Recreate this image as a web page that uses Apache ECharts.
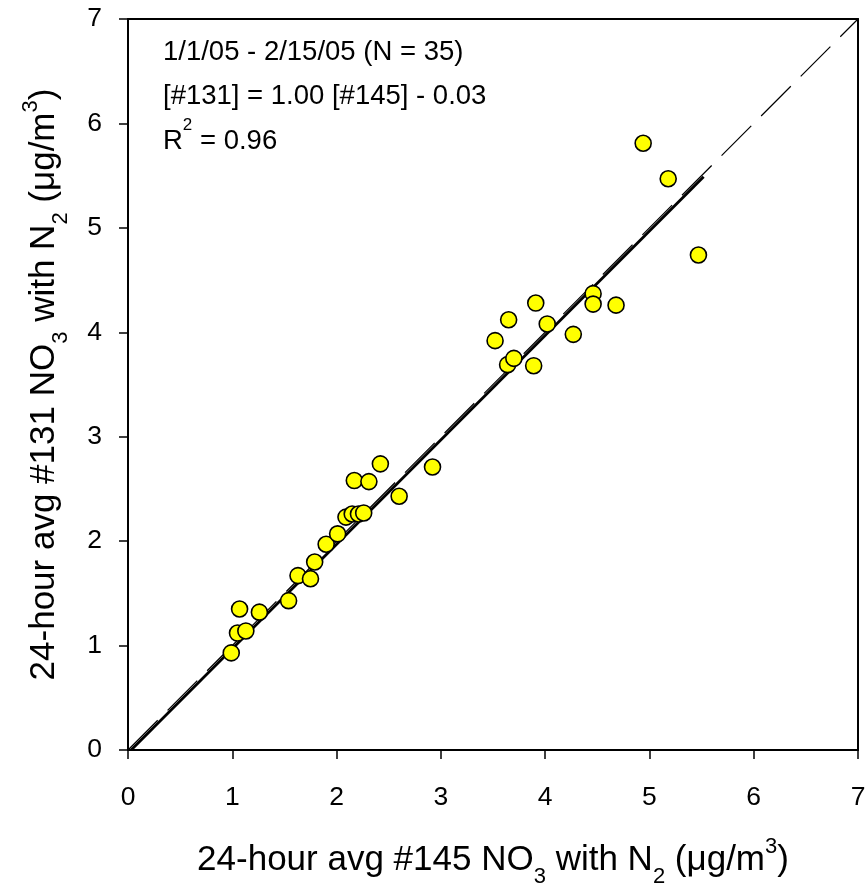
<!DOCTYPE html>
<html><head><meta charset="utf-8">
<script src="https://cdn.jsdelivr.net/npm/echarts@6/dist/echarts.min.js"></script>
<style>html,body{margin:0;padding:0;background:#fff}#c{width:867px;height:883px}</style>
</head><body><div id="c"></div>
<script>
const xTicks = [0,1,2,3,4,5,6,7];
const yTicks = [0,1,2,3,4,5,6,7];
const x145 = [0.99,1.07,1.05,1.13,1.26,1.54,1.63,1.75,1.79,1.90,2.01,2.09,2.15,2.21,2.26,2.17,2.31,2.42,2.60,2.92,3.52,3.65,3.64,3.70,3.89,3.91,4.02,4.27,4.46,4.46,4.68,4.94,5.18,5.47];
const y131 = [0.93,1.35,1.12,1.14,1.32,1.43,1.67,1.64,1.80,1.97,2.07,2.23,2.26,2.26,2.27,2.58,2.57,2.74,2.43,2.71,3.92,4.12,3.69,3.75,3.68,4.28,4.08,3.98,4.37,4.27,4.26,5.81,5.47,4.74];
const fitSlope = 1.00, fitIntercept = -0.03;
const fitRange = [0.03, 5.52];
const oneToOne = [0, 7];

const pts = x145.map((x,i)=>[x,y131[i]]);
const fit = fitRange.map(x=>[x, fitSlope*x+fitIntercept]);
const diag = oneToOne.map(v=>[v,v]);
const F = '"Liberation Sans", Arial, sans-serif';
const chart = echarts.init(document.getElementById('c'));
const axisCommon = {
  min:0, max:7, interval:1,
  axisLine:{show:true, onZero:false, lineStyle:{color:'#000', width:2}},
  axisTick:{show:true, inside:false, length:9, lineStyle:{color:'#000', width:1.5}},
  splitLine:{show:false},
  axisLabel:{color:'#000', fontFamily:F, fontSize:26.5},
};
const nameRich = {
  a:{fontFamily:F, fontSize:35, color:'#000', lineHeight:42, verticalAlign:'bottom'},
  sub:{fontFamily:F, fontSize:22, color:'#000', lineHeight:26, verticalAlign:'bottom', padding:[0,0,-10,0]},
  sup:{fontFamily:F, fontSize:22, color:'#000', lineHeight:26, verticalAlign:'top', padding:[0,0,0,0]}
};
chart.setOption({
  animation:false,
  backgroundColor:'#fff',
  grid:{left:128, top:19, right:9, bottom:133, show:false, containLabel:false, outerBoundsMode:'none'},
  xAxis:[
    Object.assign({}, axisCommon, {type:'value', position:'bottom',
      axisLabel:Object.assign({}, axisCommon.axisLabel, {margin:34}),
      name:'{a|24-hour avg #145 NO}{sub|3}{a| with N}{sub|2}{a| (μg/m}{sup|3}{a|)}',
      nameLocation:'middle', nameGap:86,
      nameTextStyle:{rich:nameRich}}),
    {type:'value', position:'top', min:0, max:7, interval:1,
      axisLine:{show:true, onZero:false, lineStyle:{color:'#000', width:2}},
      axisTick:{show:false}, axisLabel:{show:false}, splitLine:{show:false}}
  ],
  yAxis:[
    Object.assign({}, axisCommon, {type:'value', position:'left',
      axisLabel:Object.assign({}, axisCommon.axisLabel, {margin:26}),
      name:'{a|24-hour avg #131 NO}{sub|3}{a| with N}{sub|2}{a| (μg/m}{sup|3}{a|)}',
      nameLocation:'middle', nameGap:66, nameRotate:90,
      nameTextStyle:{rich:nameRich}}),
    {type:'value', position:'right', min:0, max:7, interval:1,
      axisLine:{show:true, onZero:false, lineStyle:{color:'#000', width:2}},
      axisTick:{show:false}, axisLabel:{show:false}, splitLine:{show:false}}
  ],
  series:[
    {type:'line', data:diag, symbol:'none', silent:true,
      lineStyle:{color:'#000', width:1.2, type:[42,14]}, z:1},
    {type:'line', data:fit, symbol:'none', silent:true,
      lineStyle:{color:'#000', width:2.8}, z:2},
    {type:'scatter', data:pts, symbol:'circle', symbolSize:16,
      itemStyle:{color:'#ffff00', borderColor:'#000', borderWidth:1.6, opacity:1}, z:3}
  ],
  graphic:[
    {type:'text', left:163, top:38, style:{
      text:'{a|1/1/05 - 2/15/05 (N = 35)}\n{a|[#131] = 1.00 [#145] - 0.03}\n{a|R}{sup|2}{a| = 0.96}',
      rich:{
        a:{fontFamily:F, fontSize:27.5, fill:'#000', lineHeight:44.5, verticalAlign:'bottom'},
        sup:{fontFamily:F, fontSize:17, fill:'#000', lineHeight:44.5, verticalAlign:'top', padding:[6,0,0,0]}
      }}}
  ]
});
</script></body></html>
